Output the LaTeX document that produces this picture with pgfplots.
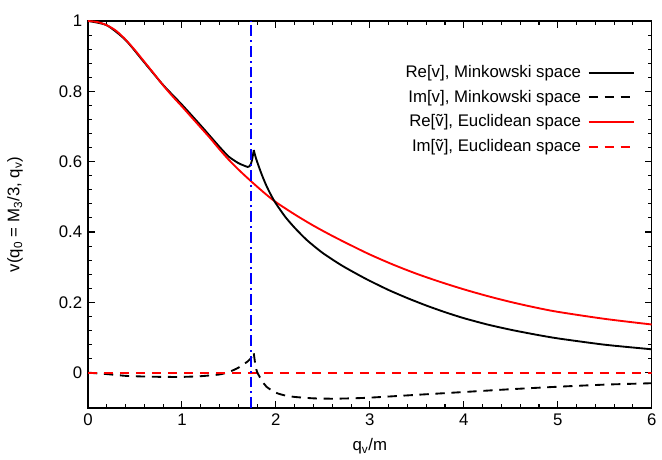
\documentclass[border=0pt]{standalone}
\usepackage{fontspec}
\setmainfont{Liberation Sans}
\usepackage{pgfplots}
\pgfplotsset{compat=1.18}
\begin{document}
\fontsize{12.6}{15}\selectfont
\begin{tikzpicture}
\begin{axis}[
  name=ax,
  scale only axis,
  width=423pt, height=290.25pt,
  xmin=0, xmax=6, ymin=-0.1, ymax=1,
  xtick={0,1,2,3,4,5,6},
  ytick={0,0.2,0.4,0.6,0.8,1},
  minor x tick num=4, minor y tick num=4,
  xtick pos=both, ytick pos=both,
  xticklabel pos=lower, yticklabel pos=left,
  tick align=inside,
  major tick length=5pt, minor tick length=3pt,
  every tick/.style={black, line width=0.8pt},
  axis line style={line width=1.1pt},
  /pgf/number format/assume math mode=true,
  ticklabel style={font=\fontsize{12.6}{15}\selectfont},
  xlabel={q\textsubscript{v}/m},
  ylabel={v(q\textsubscript{0} = M\textsubscript{3}/3, q\textsubscript{v})},
  label style={font=\fontsize{12.6}{15}\selectfont},
  xlabel style={at={(axis description cs:0.5,-0.1)}, anchor=center},
  ylabel style={at={(axis description cs:-0.1294,0.5)}, anchor=center},
  legend plot pos=right,
  legend cell align=right,
  legend image code/.code={\draw[#1] (0cm,0cm) -- (1.2cm,0cm);},
  legend style={at={(axis description cs:0.978,0.9)}, anchor=north east, draw=none, fill=none,
     font=\fontsize{12.6}{15}\selectfont, row sep=3.5pt,
     nodes={inner xsep=5pt}},
  every axis plot/.append style={line width=1.4pt},
]
\addplot[black, smooth, tension=0.4] coordinates {
(0,1.0)(0.2,0.988)(0.4,0.946)(0.6,0.882)(0.8,0.818)(1.0,0.762)(1.2,0.703)(1.4,0.642)
(1.5,0.614)(1.6,0.596)(1.65,0.590)(1.7,0.585)(1.72,0.587)(1.735,0.594)(1.75,0.610)
(1.765,0.633)};
\addlegendentry{Re[v], Minkowski space}
\addplot[black, dash pattern=on 7pt off 5pt, smooth, tension=0.4] coordinates {
(0,0)(0.2,-0.004)(0.4,-0.009)(0.6,-0.011)(0.8,-0.012)(1.0,-0.012)(1.2,-0.010)(1.4,-0.005)
(1.5,0.002)(1.6,0.014)(1.7,0.032)(1.73,0.040)(1.765,0.055)};
\addlegendentry{Im[v], Minkowski space}
\addplot[red, smooth, tension=0.5] coordinates {
(0,1.0)(0.1,0.997)(0.2,0.988)(0.3,0.972)(0.4,0.947)(0.5,0.917)(0.6,0.884)(0.7,0.851)
(0.8,0.817)(0.9,0.786)(1.0,0.757)(1.1,0.727)(1.2,0.697)(1.3,0.667)(1.4,0.635)(1.5,0.605)
(1.6,0.578)(1.7,0.553)(1.8,0.529)(1.9,0.506)(2.0,0.485)(2.2,0.450)(2.4,0.418)(2.6,0.389)
(2.8,0.362)(3.0,0.336)(3.25,0.307)(3.5,0.281)(3.75,0.258)(4.0,0.237)(4.25,0.218)
(4.5,0.201)(4.75,0.186)(5.0,0.173)(5.5,0.153)(6.0,0.137)};
\addlegendentry{Re[\~{v}], Euclidean space}
\addplot[red, dash pattern=on 7pt off 5pt] coordinates {(0,0)(6,0)};
\addlegendentry{Im[\~{v}], Euclidean space}
\addplot[black, smooth, tension=0.4, forget plot] coordinates {
(1.765,0.633)(1.78,0.617)(1.8,0.600)(1.85,0.563)(1.9,0.531)(1.95,0.504)(2.0,0.481)
(2.1,0.443)(2.2,0.412)(2.33,0.377)(2.5,0.340)(2.7,0.305)(2.9,0.275)(3.0,0.261)
(3.2,0.235)(3.4,0.212)(3.6,0.191)(3.8,0.172)(4.0,0.155)(4.25,0.137)(4.5,0.122)
(4.75,0.109)(5.0,0.0975)(5.5,0.0795)(6.0,0.0665)};
\addplot[black, dash pattern=on 7pt off 5pt, smooth, tension=0.4, forget plot] coordinates {
(1.765,0.055)(1.78,0.025)(1.8,0.002)(1.85,-0.022)(1.9,-0.040)(2.0,-0.057)(2.1,-0.065)
(2.2,-0.069)(2.4,-0.073)(2.6,-0.074)(2.8,-0.073)(3.0,-0.071)(3.5,-0.063)(4.0,-0.055)
(4.5,-0.047)(5.0,-0.040)(5.5,-0.034)(6.0,-0.030)};
\addplot[blue, line width=1.3pt, dash pattern=on 8pt off 3pt on 1.5pt off 3pt, forget plot] coordinates {(1.732,-0.1)(1.732,1)};
\end{axis}
\path ([xshift=-66pt,yshift=-36.75pt]ax.south west) rectangle ([xshift=7.5pt,yshift=15.75pt]ax.north east);
\end{tikzpicture}
\end{document}
